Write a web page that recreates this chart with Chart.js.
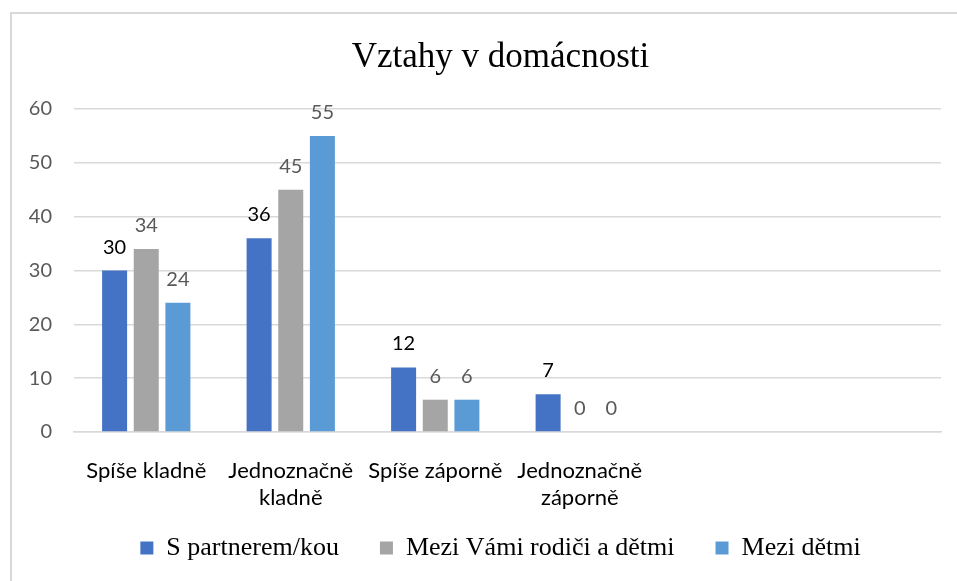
<!DOCTYPE html>
<html>
<head>
<meta charset="utf-8">
<script src="https://cdn.jsdelivr.net/npm/chart.js@4.4.1/dist/chart.umd.min.js"></script>
<style>
  html, body { margin: 0; padding: 0; background: #ffffff; }
  #wrap { width: 957px; height: 581px; position: relative; }
</style>
</head>
<body>
<div id="wrap"><canvas id="c" width="957" height="581"></canvas></div>
<script>
const chartTitle = "Vztahy v domácnosti";
const categories = [["Spíše kladně"], ["Jednoznačně", "kladně"], ["Spíše záporně"], ["Jednoznačně", "záporně"], "", ""];
const seriesNames = ["S partnerem/kou", "Mezi Vámi rodiči a dětmi", "Mezi dětmi"];
const partnerValues = [30, 36, 12, 7, null, null];
const parentsChildrenValues = [34, 45, 6, 0, null, null];
const childrenValues = [24, 55, 6, 0, null, null];
const yTicks = [0, 10, 20, 30, 40, 50, 60];
const seriesColors = ["#4472C4", "#A5A5A5", "#5B9BD5"];
const labelColors = ["#000000", "#595959", "#595959"];

const borderPlugin = {
  id: 'frame',
  beforeDraw(chart) {
    const ctx = chart.ctx;
    ctx.save();
    ctx.fillStyle = '#ffffff';
    ctx.fillRect(0, 0, chart.width, chart.height);
    ctx.strokeStyle = '#d9d9d9';
    ctx.lineWidth = 2;
    ctx.beginPath();
    ctx.moveTo(11, chart.height);
    ctx.lineTo(11, 13);
    ctx.lineTo(chart.width, 13);
    ctx.stroke();
    ctx.restore();
  },
  afterLayout(chart) {
    // let tick labels extend beyond the tightly sized axis boxes
    ['x', 'y'].forEach(id => {
      const s = chart.scales[id];
      if (s) { s._computeLabelArea = () => undefined; }
    });
  }
};

const valueLabels = {
  id: 'valueLabels',
  afterDatasetsDraw(chart) {
    const ctx = chart.ctx;
    ctx.save();
    ctx.font = '20px Lato';
    ctx.textAlign = 'center';
    ctx.textBaseline = 'alphabetic';
    chart.data.datasets.forEach((ds, i) => {
      const meta = chart.getDatasetMeta(i);
      meta.data.forEach((el, j) => {
        const v = ds.data[j];
        if (v === null || v === undefined) return;
        ctx.fillStyle = labelColors[i];
        ctx.fillText(String(v), el.x, el.y - 17);
      });
    });
    ctx.restore();
  }
};

new Chart(document.getElementById('c'), {
  type: 'bar',
  data: {
    labels: categories,
    datasets: [
      { label: seriesNames[0], data: partnerValues, backgroundColor: seriesColors[0] },
      { label: seriesNames[1], data: parentsChildrenValues, backgroundColor: seriesColors[1] },
      { label: seriesNames[2], data: childrenValues, backgroundColor: seriesColors[2] }
    ]
  },
  options: {
    responsive: false,
    animation: false,
    devicePixelRatio: 1,
    categoryPercentage: 0.657,
    barPercentage: 0.79,
    layout: { padding: { left: 60, right: 16, top: 0, bottom: 10 } },
    plugins: {
      title: {
        display: true,
        text: chartTitle,
        color: '#000000',
        font: { family: '"Liberation Serif", serif', size: 35, weight: 'normal' },
        padding: { top: 37, bottom: 30 }
      },
      legend: {
        display: true,
        position: 'bottom',
        labels: {
          color: '#000000',
          font: { family: '"Liberation Serif", serif', size: 26 },
          boxWidth: 13,
          boxHeight: 13,
          padding: 41
        }
      },
      tooltip: { enabled: false }
    },
    scales: {
      x: {
        afterFit(scale) { scale.height = 62; },
        grid: { display: false, drawTicks: false },
        border: { display: true, color: '#d9d9d9', width: 1.5 },
        ticks: {
          color: '#000000',
          font: { family: 'Lato', size: 22, lineHeight: 1.2 },
          padding: 26,
          maxRotation: 0,
          autoSkip: false
        }
      },
      y: {
        min: 0,
        max: 60,
        afterFit(scale) { scale.width = 14; },
        afterBuildTicks(scale) { scale.ticks = yTicks.map(v => ({ value: v })); },
        grid: { color: '#d9d9d9', lineWidth: 1.5, drawTicks: false },
        border: { display: false },
        ticks: {
          color: '#595959',
          font: { family: 'Lato', size: 20 },
          padding: 22
        }
      }
    }
  },
  plugins: [borderPlugin, valueLabels]
});
</script>
</body>
</html>
